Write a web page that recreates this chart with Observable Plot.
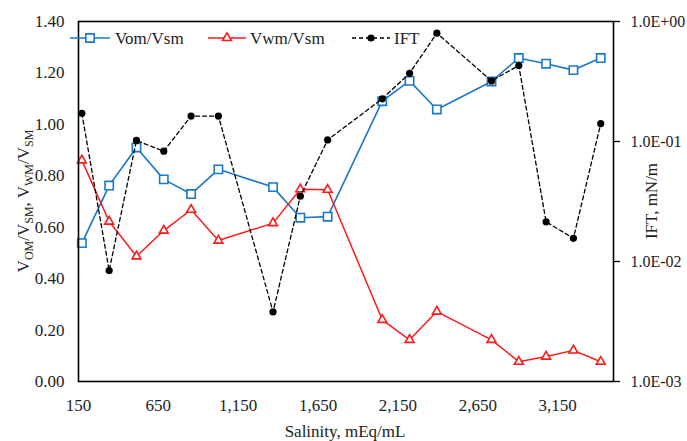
<!DOCTYPE html>
<html>
<head>
<meta charset="utf-8">
<script src="https://cdn.jsdelivr.net/npm/d3@7"></script>
<script src="https://cdn.jsdelivr.net/npm/@observablehq/plot@0.6"></script>
<style>
  html, body { margin: 0; padding: 0; background: #fff; }
  #chart svg { display: block; }
</style>
</head>
<body>
<div id="chart"></div>
<script>
// ---- data ----
const salinity = [171, 342, 513, 684, 855, 1026, 1368, 1539, 1710, 2052, 2223, 2394, 2736, 2907, 3078, 3249, 3420];
const vomVsm = [0.538, 0.762, 0.910, 0.786, 0.729, 0.825, 0.756, 0.637, 0.641, 1.090, 1.169, 1.058, 1.167, 1.258, 1.236, 1.211, 1.258];
const vwmVsm = [0.860, 0.622, 0.487, 0.587, 0.668, 0.548, 0.616, 0.748, 0.746, 0.240, 0.162, 0.272, 0.162, 0.077, 0.097, 0.121, 0.077];
const ift = [0.172, 0.0084, 0.102, 0.083, 0.163, 0.163, 0.0038, 0.035, 0.103, 0.227, 0.37, 0.80, 0.32, 0.43, 0.0214, 0.0156, 0.141];

const xTicks = [150, 650, 1150, 1650, 2150, 2650, 3150];
const yTicks = [0, 0.2, 0.4, 0.6, 0.8, 1.0, 1.2, 1.4];
const iftTicks = [0.001, 0.01, 0.1, 1];
const iftTickLabels = ["1.0E-03", "1.0E-02", "1.0E-01", "1.0E+00"];
const seriesNames = ["Vom/Vsm", "Vwm/Vsm", "IFT"];

// ---- styles ----
const blue = "#1a78c8", red = "#ff1a1a", black = "#000";
const font = "Liberation Serif";
const fs = 17;

// secondary (log) axis mapped onto the primary domain [0, 1.4]
const yMax = 1.4;
const toLeft = v => (Math.log10(v) + 3) / 3 * yMax;

const rows = salinity.map((s, i) => ({s, vom: vomVsm[i], vwm: vwmVsm[i], ift: toLeft(ift[i])}));
const iftPos = iftTicks.map(toLeft);
const iftLabel = new Map(iftPos.map((p, i) => [p, iftTickLabels[i]]));

const plot = Plot.plot({
  width: 687,
  height: 441,
  marginLeft: 78,
  marginRight: 74,
  marginTop: 21,
  marginBottom: 60,
  style: {fontFamily: font, fontSize: fs + "px", color: "#222", background: "#fff"},
  x: {domain: [150, 3500]},
  y: {domain: [0, yMax]},
  marks: [
    Plot.axisX(xTicks, {tickSize: 0, tickPadding: 17, tickFormat: d3.format(","), label: null, fill: "#222", fontSize: fs}),
    Plot.axisY(yTicks, {tickSize: 0, tickPadding: 14, tickFormat: d3.format(".2f"), label: null, fill: "#222", fontSize: fs}),
    Plot.axisY(iftPos, {anchor: "right", tickSize: 6, tickPadding: 11, tickFormat: d => iftLabel.get(d), label: null, fill: "#222", stroke: "#000", strokeWidth: 1.3, fontSize: 16}),
    Plot.line(rows, {x: "s", y: "vom", stroke: blue, strokeWidth: 1.6}),
    Plot.dot(rows, {x: "s", y: "vom", symbol: "square", r: 4.7, stroke: blue, fill: "#fff", strokeWidth: 1.6}),
    Plot.line(rows, {x: "s", y: "vwm", stroke: red, strokeWidth: 1.5}),
    Plot.dot(rows, {x: "s", y: "vwm", symbol: "triangle", r: 3.3, stroke: red, fill: "#fff", strokeWidth: 1.6}),
    Plot.line(rows, {x: "s", y: "ift", stroke: black, strokeWidth: 1.3, strokeDasharray: "4,3"}),
    Plot.dot(rows, {x: "s", y: "ift", r: 3.6, fill: black, stroke: "none"}),
    Plot.frame({stroke: "#000", strokeWidth: 1.6})
  ]
});
document.getElementById("chart").appendChild(plot);

// ---- axis titles & legend ----
const svg = d3.select(plot);
const g = svg.append("g").attr("font-family", font).attr("fill", "#222").attr("text-anchor", "middle");

g.append("text").attr("x", 345).attr("y", 437)
  .attr("font-size", fs).text("Salinity, mEq/mL");

g.append("text").attr("transform", "translate(657,201) rotate(-90)")
  .attr("font-size", fs).text("IFT, mN/m");

const yl = g.append("text").attr("transform", "translate(29,201) rotate(-90)")
  .attr("font-size", fs);
const parts = [["V", false], ["OM", true], ["/V", false], ["SM", true], [", V", false], ["WM", true], ["/V", false], ["SM", true]];
let sub = false;
for (const [t, s] of parts) {
  const ts = yl.append("tspan").text(t);
  if (s) ts.attr("font-size", 12).attr("dy", sub ? 0 : 4);
  else ts.attr("dy", sub ? -4 : 0);
  sub = s;
}

// legend
const leg = g.append("g").attr("font-size", fs).attr("text-anchor", "start");
const items = [
  {name: seriesNames[0], x0: 70, x1: 110, tx: 115, color: blue, sym: d3.symbolSquare, r: 4.7, fill: "#fff", dash: null, sw: 1.6},
  {name: seriesNames[1], x0: 208, x1: 246, tx: 250, color: red, sym: d3.symbolTriangle, r: 3.3, fill: "#fff", dash: null, sw: 1.5},
  {name: seriesNames[2], x0: 352, x1: 390, tx: 394, color: black, sym: d3.symbolCircle, r: 3.6, fill: black, dash: "4,3", sw: 1.3}
];
const ly = 38;
for (const it of items) {
  leg.append("line").attr("x1", it.x0).attr("x2", it.x1).attr("y1", ly).attr("y2", ly)
    .attr("stroke", it.color).attr("stroke-width", it.sw).attr("stroke-dasharray", it.dash);
  leg.append("path").attr("transform", `translate(${(it.x0 + it.x1) / 2},${ly})`)
    .attr("d", d3.symbol(it.sym, Math.PI * it.r * it.r)())
    .attr("fill", it.fill).attr("stroke", it.sym === d3.symbolCircle ? "none" : it.color).attr("stroke-width", 1.6);
  leg.append("text").attr("x", it.tx).attr("y", ly + 6).text(it.name);
}
</script>
</body>
</html>
